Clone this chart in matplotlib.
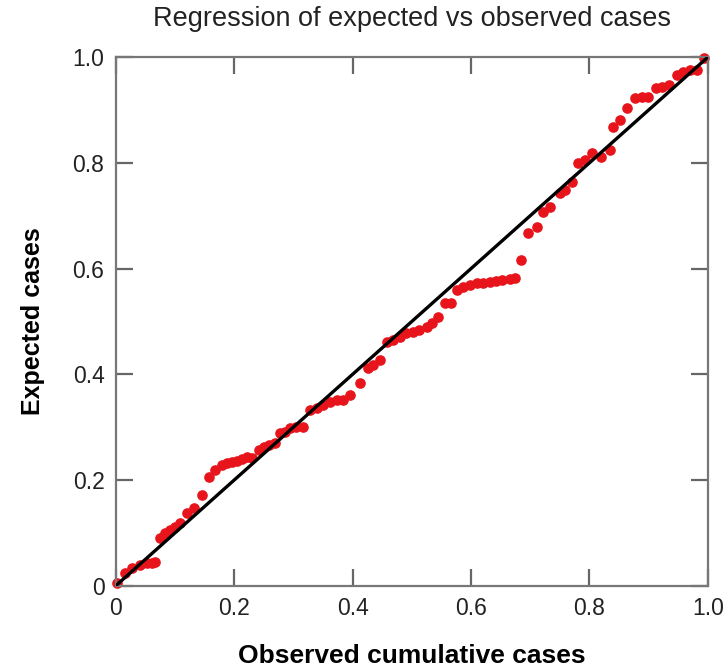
import numpy as np
import matplotlib
matplotlib.use("Agg")
import matplotlib.pyplot as plt

plt.rcParams["font.family"] = ["Liberation Sans", "DejaVu Sans"]

# observed (x) vs expected (y) cumulative cases
observed = [0.003, 0.016, 0.028, 0.041, 0.053, 0.062, 0.067, 0.075, 0.083, 0.092,
            0.100, 0.109, 0.121, 0.132, 0.146, 0.158, 0.168, 0.180, 0.188, 0.196,
            0.205, 0.213, 0.222, 0.230, 0.242, 0.250, 0.259, 0.269, 0.277, 0.286,
            0.294, 0.305, 0.316, 0.328, 0.340, 0.350, 0.362, 0.373, 0.384, 0.395,
            0.412, 0.426, 0.434, 0.446, 0.458, 0.468, 0.480, 0.491, 0.502, 0.513,
            0.525, 0.535, 0.544, 0.556, 0.567, 0.576, 0.586, 0.598, 0.610, 0.620,
            0.632, 0.643, 0.653, 0.665, 0.674, 0.685, 0.696, 0.711, 0.721, 0.733,
            0.750, 0.758, 0.771, 0.780, 0.792, 0.804, 0.820, 0.834, 0.839, 0.851,
            0.864, 0.876, 0.888, 0.898, 0.913, 0.923, 0.935, 0.947, 0.957, 0.969,
            0.982, 0.994]
expected = [0.006, 0.025, 0.034, 0.040, 0.043, 0.043, 0.045, 0.091, 0.100, 0.106,
            0.112, 0.119, 0.138, 0.147, 0.172, 0.206, 0.219, 0.229, 0.233, 0.234,
            0.236, 0.240, 0.244, 0.242, 0.257, 0.263, 0.267, 0.270, 0.289, 0.291,
            0.299, 0.300, 0.301, 0.333, 0.336, 0.342, 0.348, 0.352, 0.352, 0.361,
            0.384, 0.412, 0.418, 0.427, 0.461, 0.465, 0.471, 0.478, 0.480, 0.484,
            0.490, 0.497, 0.509, 0.535, 0.535, 0.560, 0.565, 0.569, 0.573, 0.573,
            0.575, 0.577, 0.578, 0.580, 0.582, 0.616, 0.667, 0.679, 0.707, 0.716,
            0.743, 0.749, 0.764, 0.800, 0.805, 0.819, 0.811, 0.824, 0.868, 0.881,
            0.904, 0.922, 0.924, 0.924, 0.941, 0.943, 0.947, 0.966, 0.972, 0.975,
            0.975, 0.998]

ticks = [0, 0.2, 0.4, 0.6, 0.8, 1.0]
tick_labels = ["0", "0.2", "0.4", "0.6", "0.8", "1.0"]

fig = plt.figure(figsize=(7.28, 6.70), dpi=100)
ax = fig.add_axes([0.1587, 0.1254, 0.8138, 0.7895])

ax.scatter(observed, expected, s=44, color="#e8141c", zorder=2, clip_on=False)
ax.plot([0, 1], [0, 1], color="black", lw=2.4, zorder=3)

ax.set_xlim(0, 1)
ax.set_ylim(0, 1)
ax.set_xticks(ticks)
ax.set_xticklabels(tick_labels)
ax.set_yticks(ticks)
ax.set_yticklabels(tick_labels)
ax.tick_params(direction="in", length=12, width=1.6, color="#666666",
               labelsize=16.5, labelcolor="#222222", top=True, right=True, pad=8)
for sp in ax.spines.values():
    sp.set_color("#777777")
    sp.set_linewidth(1.6)

ax.set_title("Regression of expected vs observed cases", fontsize=19.5, pad=22, color="#222222")
ax.set_xlabel("Observed cumulative cases", fontsize=19, fontweight="bold", labelpad=17)
ax.set_ylabel("Expected cases", fontsize=18, fontweight="bold", labelpad=20)

fig.savefig("out.png", dpi=100)
